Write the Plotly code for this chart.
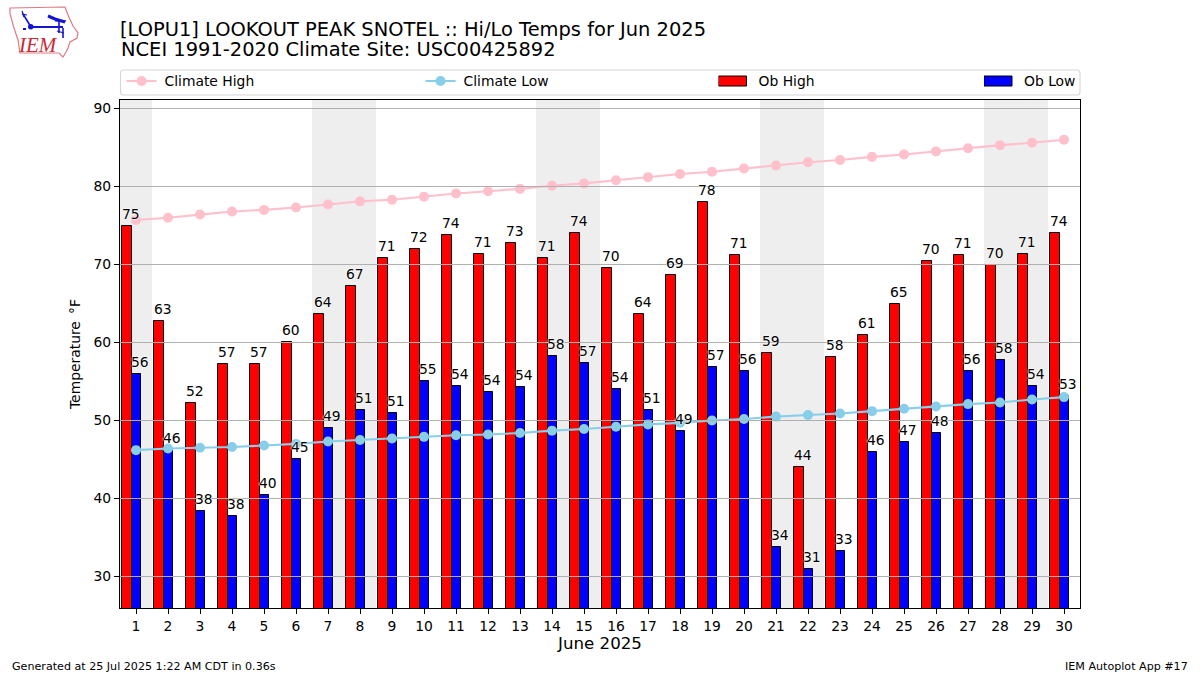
import plotly.graph_objects as go

W, H = 1200, 675
L, R, T, B = 120.0, 1080.0, 100.0, 608.0

days = list(range(1, 31))
climate_high = [75.7, 76.0, 76.4, 76.8, 77.0, 77.3, 77.7, 78.1, 78.3, 78.7, 79.1, 79.4, 79.7, 80.1, 80.4,
                80.8, 81.2, 81.6, 81.9, 82.3, 82.7, 83.1, 83.4, 83.8, 84.1, 84.5, 84.9, 85.3, 85.6, 86.0]
climate_low = [46.2, 46.4, 46.5, 46.6, 46.8, 47.0, 47.3, 47.5, 47.7, 47.9, 48.1, 48.2, 48.4, 48.7, 48.9,
               49.2, 49.5, 49.7, 50.0, 50.2, 50.5, 50.7, 50.9, 51.2, 51.5, 51.8, 52.1, 52.3, 52.7, 53.0]
ob_high = [74.9, 62.8, 52.3, 57.3, 57.3, 60.1, 63.7, 67.3, 70.8, 72.0, 73.8, 71.4, 72.7, 70.8, 74.0,
           69.6, 63.7, 68.7, 78.0, 71.2, 58.6, 44.0, 58.2, 61.0, 64.9, 70.4, 71.2, 69.9, 71.4, 74.1]
ob_low = [55.9, 46.2, 38.4, 37.8, 40.4, 45.0, 49.0, 51.4, 50.9, 55.0, 54.4, 53.6, 54.3, 58.3, 57.4,
          54.1, 51.4, 48.7, 56.8, 56.4, 33.8, 30.9, 33.3, 46.0, 47.3, 48.4, 56.4, 57.7, 54.4, 53.1]
weekend_spans = [(0.5, 1.5), (6.5, 8.5), (13.5, 15.5), (20.5, 22.5), (27.5, 29.5)]
y_ticks = [30, 40, 50, 60, 70, 80, 90]

FONT = "DejaVu Sans"
FS = 13.89


def px(x):
    return (x - L) / (R - L)


def py(y):
    return (B - y) / (B - T)


fig = go.Figure()
fig.add_bar(x=days, y=ob_high, name="Ob High", width=0.3, offset=-0.43,
            marker=dict(color="#ff0000", line=dict(color="black", width=1)), legend="legend3")
fig.add_bar(x=days, y=ob_low, name="Ob Low", width=0.3, offset=-0.13,
            marker=dict(color="#0000ff", line=dict(color="black", width=1)), legend="legend4")
fig.add_scatter(x=days, y=climate_high, name="Climate High", mode="lines+markers",
                line=dict(color="#ffc0cb", width=2.1), marker=dict(color="#ffc0cb", size=10), legend="legend")
fig.add_scatter(x=days, y=climate_low, name="Climate Low", mode="lines+markers",
                line=dict(color="#87ceeb", width=2.1), marker=dict(color="#87ceeb", size=10), legend="legend2")

annotations = []
halo = "0 0 2px white, 0 0 2px white, 0 0 1px white"
for series, off in ((ob_high, -0.45), (ob_low, -0.15)):
    for d, v in zip(days, series):
        annotations.append(dict(x=d + off, y=v, xref="x", yref="y", text=str(round(v)), showarrow=False,
                                xanchor="left", yanchor="bottom", yshift=3, xshift=-1, borderpad=0,
                                font=dict(family=FONT, size=FS, color="black", shadow=halo)))


def note(x, y, text, size, anchor="left", family=FONT, color="black"):
    annotations.append(dict(x=px(x), y=py(y), xref="paper", yref="paper", text=text, showarrow=False,
                            xanchor=anchor, yanchor="middle", borderpad=0,
                            font=dict(family=family, size=size, color=color)))


note(119.5, 50, "NCEI 1991-2020 Climate Site: USC00425892", 19.44)
note(11, 666, "Generated at 25 Jul 2025 1:22 AM CDT in 0.36s", 11.11)
note(1189, 666, "IEM Autoplot App #17", 11.11, anchor="right")
note(37.5, 45, "<i>IEM</i>", 21, anchor="center", family="Liberation Serif", color="#cc2a36")

shapes = []
for a, b in weekend_spans:
    shapes.append(dict(type="rect", xref="x", yref="paper", x0=a, x1=b, y0=0, y1=1, layer="below",
                       fillcolor="#eeeeee", line=dict(width=0)))
for t in y_ticks:
    shapes.append(dict(type="line", xref="paper", yref="y", x0=0, x1=1, y0=t, y1=t, layer="above",
                       line=dict(color="#b0b0b0", width=1)))


def path(points, close=False):
    s = "M" + " L".join(f"{px(x):.5f},{py(y):.5f}" for x, y in points)
    return s + (" Z" if close else "")


def rounded_box(x0, y0, x1, y1, r):
    return (f"M{px(x0+r):.5f},{py(y0):.5f} L{px(x1-r):.5f},{py(y0):.5f} "
            f"Q{px(x1):.5f},{py(y0):.5f} {px(x1):.5f},{py(y0+r):.5f} L{px(x1):.5f},{py(y1-r):.5f} "
            f"Q{px(x1):.5f},{py(y1):.5f} {px(x1-r):.5f},{py(y1):.5f} L{px(x0+r):.5f},{py(y1):.5f} "
            f"Q{px(x0):.5f},{py(y1):.5f} {px(x0):.5f},{py(y1-r):.5f} L{px(x0):.5f},{py(y0+r):.5f} "
            f"Q{px(x0):.5f},{py(y0):.5f} {px(x0+r):.5f},{py(y0):.5f} Z")


# legend frame
shapes.append(dict(type="path", xref="paper", yref="paper", path=rounded_box(120.5, 70, 1080, 95, 3),
                   fillcolor="white", line=dict(color="#d6d6d6", width=1.1), layer="below"))

# logo
logo_red = [(10, 8), (65, 7), (68, 15), (73, 26), (78, 33), (77, 38), (70, 42), (68, 48), (66, 52),
            (63, 57), (59, 53), (20, 53), (18, 40), (14, 28), (10, 14)]
shapes.append(dict(type="path", xref="paper", yref="paper", path=path(logo_red, True),
                   line=dict(color="#e07a82", width=1.2), layer="above"))
for pts, w in (([(31, 27), (63, 27)], 2), ([(23, 14), (31, 27)], 1.6), ([(22, 11), (24, 17)], 1.2),
               ([(22, 14), (27, 15)], 1.2), ([(48, 16), (55, 19), (65, 22)], 3), ([(55, 21), (66, 21)], 1.2),
               ([(59, 21), (59, 33)], 1.6), ([(63, 28), (63, 38)], 1.6), ([(57, 31), (64, 33)], 1.2),
               ([(23, 29), (26, 29)], 2)):
    shapes.append(dict(type="path", xref="paper", yref="paper", path=path(pts),
                       line=dict(color="#1414d2", width=w), layer="above"))
shapes.append(dict(type="circle", xref="paper", yref="paper", x0=px(28), x1=px(33.5), y0=py(29.5), y1=py(24),
                   fillcolor="#1414d2", line=dict(width=0), layer="above"))


def legend_at(x):
    return dict(x=px(x), y=py(81.5), xanchor="left", yanchor="middle", bgcolor="rgba(0,0,0,0)",
                borderwidth=0, font=dict(family=FONT, size=FS, color="black"), itemwidth=30,
                itemclick=False, itemdoubleclick=False)


axis_common = dict(showgrid=False, zeroline=False, showline=True, linecolor="black", linewidth=1.1, mirror=True,
                   ticks="outside", ticklen=5, tickwidth=1.1, tickcolor="black",
                   tickfont=dict(family=FONT, size=FS, color="black"))

fig.update_layout(
    width=W, height=H, autosize=False,
    margin=dict(l=L, r=W - R, t=T, b=H - B, pad=0, autoexpand=False),
    paper_bgcolor="white", plot_bgcolor="rgba(0,0,0,0)",
    barmode="overlay", bargap=0,
    showlegend=True,
    title=dict(text="[LOPU1] LOOKOUT PEAK SNOTEL :: Hi/Lo Temps for Jun 2025", x=120 / W, xanchor="left",
               y=1 - 29 / H, yanchor="middle", xref="container", yref="container",
               font=dict(family=FONT, size=19.44, color="black")),
    xaxis=dict(range=[0.5, 30.5], tickvals=days, ticktext=[str(d) for d in days],
               title=dict(text="June 2025", standoff=4, font=dict(family=FONT, size=16.67, color="black")),
               **axis_common),
    yaxis=dict(range=[25.96, 91.09], tickvals=y_ticks,
               title=dict(text="Temperature \u2009°F", standoff=9, font=dict(family=FONT, size=FS, color="black")),
               **axis_common),
    legend=legend_at(124.5), legend2=legend_at(423.5), legend3=legend_at(718.5), legend4=legend_at(984),
    annotations=annotations, shapes=shapes,
)

post = """
document.body.style.margin='0';
function fixLegend(){
  document.querySelectorAll('.legendlines, .legendsymbols').forEach(function(g){
    g.setAttribute('transform','translate(-3,0)');
  });
  document.querySelectorAll('.legendpoints path').forEach(function(p){
    var fill = getComputedStyle(p).fill;
    if (fill === 'rgb(255, 0, 0)' || fill === 'rgb(0, 0, 255)') {
      p.setAttribute('d','M11,5H-17V-5H11Z');
    }
  });
}
fixLegend();
[0, 20, 60, 150, 400, 1000].forEach(function(t){ setTimeout(fixLegend, t); });
"""
fig.write_html("out.html", post_script=post, config=dict(displayModeBar=False))
